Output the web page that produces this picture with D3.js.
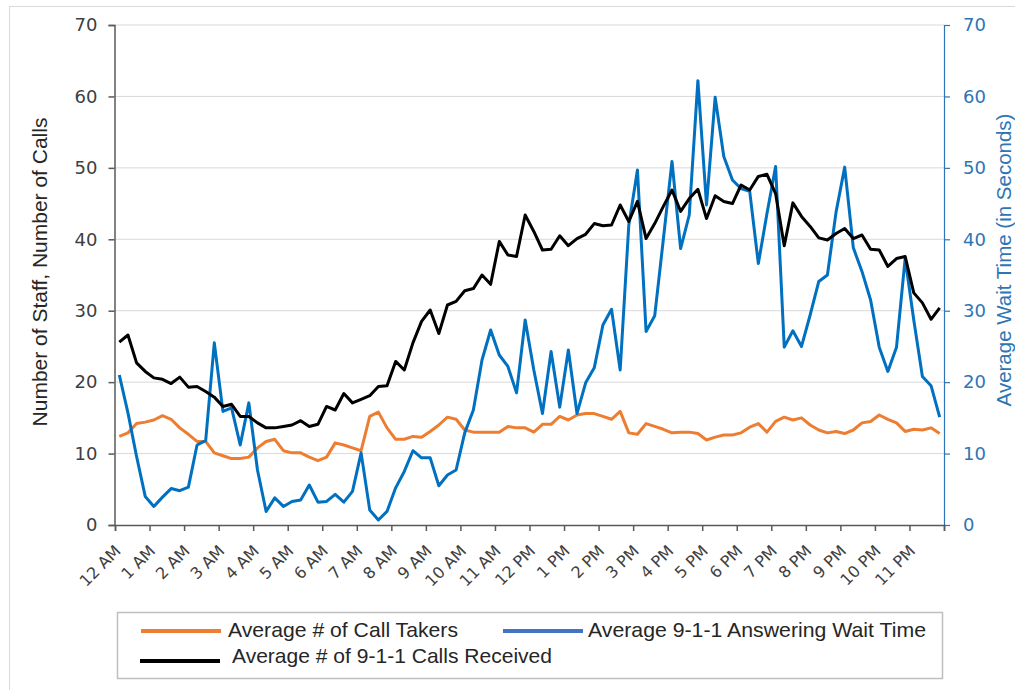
<!DOCTYPE html>
<html>
<head>
<meta charset="utf-8">
<script src="https://cdn.jsdelivr.net/npm/d3@7"></script>
<style>
  body { margin: 0; background: #fff; }
  svg { display: block; font-family: "Liberation Sans", Arial, sans-serif; }
</style>
</head>
<body>
<svg id="chart" width="1015" height="690"></svg>
<script>
// hour labels shown on the x axis, each hour split in four 15 minute slots
const hourLabels = ["12 AM", "1 AM", "2 AM", "3 AM", "4 AM", "5 AM", "6 AM", "7 AM", "8 AM", "9 AM", "10 AM", "11 AM",
    "12 PM", "1 PM", "2 PM", "3 PM", "4 PM", "5 PM", "6 PM", "7 PM", "8 PM", "9 PM", "10 PM", "11 PM"];
const quarters = [":00", ":15", ":30", ":45"];
const categories = hourLabels.flatMap(h => quarters.map(q => h + q));

const callTakers = [
    12.4, 12.9, 14.2, 14.4, 14.7, 15.3, 14.8, 13.6, 12.7, 11.7, 11.7, 10.1,
    9.7, 9.3, 9.3, 9.5, 10.8, 11.7, 12.0, 10.4, 10.1, 10.1, 9.5, 9.0,
    9.5, 11.5, 11.2, 10.8, 10.4, 15.2, 15.8, 13.6, 12.0, 12.0, 12.4, 12.3,
    13.1, 14.0, 15.1, 14.8, 13.3, 13.0, 13.0, 13.0, 13.0, 13.8, 13.6, 13.6,
    13.0, 14.1, 14.1, 15.2, 14.7, 15.4, 15.6, 15.6, 15.2, 14.8, 15.9, 12.9,
    12.7, 14.2, 13.8, 13.4, 12.9, 13.0, 13.0, 12.8, 11.9, 12.3, 12.6, 12.6,
    12.9, 13.7, 14.2, 13.0, 14.5, 15.1, 14.7, 15.0, 14.0, 13.3, 12.9, 13.1,
    12.8, 13.3, 14.3, 14.5, 15.4, 14.8, 14.3, 13.1, 13.4, 13.3, 13.6, 12.8
];

const waitTime = [
    21.0, 15.7, 9.6, 4.0, 2.6, 3.9, 5.1, 4.8, 5.3, 11.2, 11.8, 25.5,
    15.9, 16.4, 11.2, 17.1, 7.7, 1.9, 3.8, 2.6, 3.3, 3.5, 5.6, 3.2,
    3.3, 4.3, 3.2, 4.7, 10.1, 2.1, 0.7, 1.9, 5.2, 7.5, 10.4, 9.4,
    9.4, 5.5, 7.0, 7.7, 12.9, 16.1, 23.1, 27.3, 23.8, 22.2, 18.5, 28.7,
    21.7, 15.6, 24.3, 16.5, 24.5, 15.6, 19.9, 22.0, 28.0, 30.2, 21.7, 42.0,
    49.7, 27.1, 29.3, 40.0, 50.9, 38.7, 43.4, 62.2, 44.8, 59.9, 51.6, 48.3,
    47.1, 46.7, 36.6, 43.6, 50.2, 24.9, 27.2, 25.0, 29.4, 34.1, 35.0, 43.8,
    50.1, 38.8, 35.5, 31.5, 24.9, 21.5, 24.9, 37.3, 28.7, 20.8, 19.5, 15.1
];

const callsReceived = [
    25.6, 26.6, 22.7, 21.5, 20.6, 20.4, 19.8, 20.7, 19.3, 19.4, 18.7, 17.9,
    16.6, 16.9, 15.2, 15.2, 14.3, 13.6, 13.6, 13.8, 14.0, 14.6, 13.8, 14.1,
    16.6, 16.1, 18.4, 17.1, 17.6, 18.1, 19.4, 19.5, 22.9, 21.7, 25.5, 28.5,
    30.1, 26.8, 30.8, 31.3, 32.8, 33.1, 35.0, 33.7, 39.7, 37.8, 37.6, 43.4,
    41.1, 38.5, 38.6, 40.5, 39.1, 40.1, 40.7, 42.2, 41.9, 42.0, 44.8, 42.5,
    45.3, 40.1, 42.2, 44.6, 46.9, 43.9, 45.7, 47.0, 42.9, 46.1, 45.3, 45.0,
    47.6, 46.9, 48.8, 49.1, 46.4, 39.1, 45.1, 43.2, 41.8, 40.2, 39.9, 40.8,
    41.5, 40.1, 40.6, 38.6, 38.5, 36.2, 37.3, 37.6, 32.5, 31.1, 28.8, 30.4
];

const yTicks = [0, 10, 20, 30, 40, 50, 60, 70];

const seriesList = [
    { name: "Average # of Call Takers", values: callTakers, color: "#ED7D31", key: "#ED7D31", axis: "left" },
    { name: "Average 9-1-1 Answering Wait Time", values: waitTime, color: "#0070C0", key: "#4472C4", axis: "right" },
    { name: "Average # of 9-1-1 Calls Received", values: callsReceived, color: "#000000", key: "#000000", axis: "left" }
];

const svg = d3.select("#chart");
const plotLeft = 115, plotRight = 944, plotTop = 25, plotBottom = 525;
const tickFont = "'DejaVu Sans', Verdana, sans-serif";

// outer chart border
svg.append("rect")
    .attr("x", 9.5).attr("y", 6.5)
    .attr("width", 1015).attr("height", 700)
    .attr("fill", "none")
    .attr("stroke", "#D9D9D9");

const x = d3.scaleBand().domain(categories).range([plotLeft, plotRight]);
const hourX = d3.scaleLinear().domain([0, 24]).range([plotLeft, plotRight]);
const yLeft = d3.scaleLinear().domain([0, 70]).range([plotBottom, plotTop]);
const yRight = d3.scaleLinear().domain([0, 70]).range([plotBottom, plotTop]);

// gridlines
svg.append("g")
    .selectAll("line")
    .data(yTicks.filter(d => d > 0))
    .enter()
    .append("line")
    .attr("x1", plotLeft).attr("x2", plotRight)
    .attr("y1", d => yLeft(d)).attr("y2", d => yLeft(d))
    .attr("stroke", "#D9D9D9")
    .attr("stroke-width", 1);

// left axis
const gLeft = svg.append("g")
    .attr("transform", `translate(${plotLeft - 0.5},0)`)
    .call(d3.axisLeft(yLeft).tickValues(yTicks).tickSize(6).tickPadding(11));
gLeft.selectAll("path, line").attr("stroke", "#595959").attr("stroke-width", 1.5);
gLeft.selectAll("text").attr("font-size", 18).attr("fill", "#404040")
    .attr("font-family", tickFont);

// right axis
const gRight = svg.append("g")
    .attr("transform", `translate(${plotRight},0)`)
    .call(d3.axisRight(yRight).tickValues(yTicks).tickSize(6).tickPadding(13));
gRight.selectAll("path, line").attr("stroke", "#2E75B6").attr("stroke-width", 1.2);
gRight.selectAll("text").attr("font-size", 18).attr("fill", "#2E75B6")
    .attr("font-family", tickFont);

// bottom axis: tick marks on hour boundaries
const gBottom = svg.append("g")
    .attr("transform", `translate(0,${plotBottom})`)
    .call(d3.axisBottom(hourX).tickValues(d3.range(0, 25)).tickSize(6).tickFormat(""));
gBottom.selectAll("path, line").attr("stroke", "#595959").attr("stroke-width", 1.5);

// hour labels, rotated
svg.append("g")
    .selectAll("text")
    .data(hourLabels)
    .enter()
    .append("text")
    .attr("transform", (d, i) => `translate(${x(categories[i * 4]) + x.bandwidth() / 2 - 1.5},${plotBottom + 23}) rotate(-45)`)
    .attr("text-anchor", "end")
    .attr("dy", "0.35em")
    .attr("font-size", 16)
    .attr("font-family", tickFont)
    .attr("fill", "#404040")
    .text(d => d);

// axis titles
svg.append("text")
    .attr("transform", "translate(47,272) rotate(-90)")
    .attr("text-anchor", "middle")
    .attr("font-size", 21)
    .attr("fill", "#262626")
    .text("Number of Staff, Number of Calls");

svg.append("text")
    .attr("transform", "translate(1011,260) rotate(-90)")
    .attr("text-anchor", "middle")
    .attr("font-size", 20.5)
    .attr("fill", "#2E75B6")
    .text("Average Wait Time (in Seconds)");

// lines
const lineFor = s => d3.line()
    .x((d, i) => x(categories[i]) + x.bandwidth() / 2)
    .y(d => (s.axis === "left" ? yLeft : yRight)(d));

svg.append("g")
    .selectAll("path")
    .data(seriesList)
    .enter()
    .append("path")
    .attr("fill", "none")
    .attr("stroke", d => d.color)
    .attr("stroke-width", 3)
    .attr("stroke-linejoin", "round")
    .attr("d", d => lineFor(d)(d.values));

// legend
const legend = svg.append("g");
legend.append("rect")
    .attr("x", 117.5).attr("y", 612.5)
    .attr("width", 825).attr("height", 66)
    .attr("fill", "#fff")
    .attr("stroke", "#BFBFBF")
    .attr("stroke-width", 1.5);

const legendPos = [
    { x: 141, y: 631, tx: 228, ty: 630, w: 230 },
    { x: 503, y: 631, tx: 588, ty: 630, w: 338 },
    { x: 140, y: 661, tx: 232, ty: 656, w: 320 }
];

legend.selectAll("g.item")
    .data(seriesList)
    .enter()
    .append("g")
    .attr("class", "item")
    .each(function (d, i) {
        const p = legendPos[i];
        const g = d3.select(this);
        g.append("line")
            .attr("x1", p.x).attr("x2", p.x + 80)
            .attr("y1", p.y).attr("y2", p.y)
            .attr("stroke", d.key)
            .attr("stroke-width", 4);
        g.append("text")
            .attr("x", p.tx)
            .attr("y", p.ty)
            .attr("dy", "0.35em")
            .attr("font-size", 21)
            .attr("textLength", p.w)
            .attr("lengthAdjust", "spacingAndGlyphs")
            .attr("fill", "#262626")
            .text(d.name);
    });
</script>
</body>
</html>
